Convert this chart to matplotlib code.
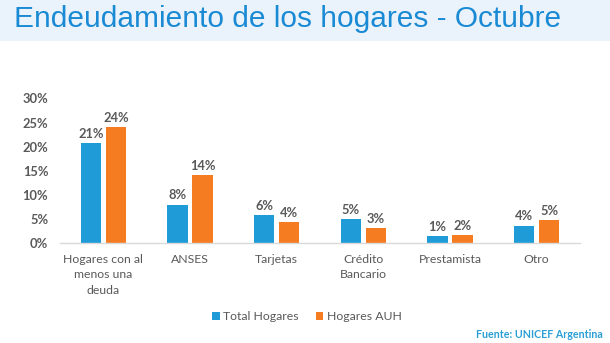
import matplotlib
matplotlib.use("Agg")
import matplotlib.pyplot as plt
from matplotlib.patches import Rectangle
import numpy as np

categories = ["Hogares con al\nmenos una\ndeuda", "ANSES", "Tarjetas", "Crédito\nBancario", "Prestamista", "Otro"]
total_hogares = [20.7, 7.9, 5.7, 4.8, 1.3, 3.5]
hogares_auh = [24.0, 14.0, 4.2, 3.0, 1.5, 4.6]
total_labels = ["21%", "8%", "6%", "5%", "1%", "4%"]
auh_labels = ["24%", "14%", "4%", "3%", "2%", "5%"]
yticks = [0, 5, 10, 15, 20, 25, 30]
ytick_labels = ["0%", "5%", "10%", "15%", "20%", "25%", "30%"]

BLUE = "#1f9bd7"
ORANGE = "#f57c21"
GRAY = "#595959"

fig = plt.figure(figsize=(6.1, 3.43), dpi=100)
fig.patch.set_facecolor("white")
W, H = 610, 343

# title band
fig.patches.append(Rectangle((0, 1 - 41 / H), 1, 41 / H, transform=fig.transFigure,
                             facecolor="#eaf3fb", edgecolor="none", zorder=0))
fig.text(14 / W, 1 - 19 / H, "Endeudamiento de los hogares - Octubre", fontsize=21.5,
         color="#1a8ad4", family="Liberation Sans", va="center", ha="left")

ax = fig.add_axes([60 / W, 1 - 242.5 / H, 520 / W, 144 / H])
x = np.arange(len(categories))
bw = 0.235
off = 0.145
ax.bar(x - off, total_hogares, bw, color=BLUE, label="Total Hogares")
ax.bar(x + off, hogares_auh, bw, color=ORANGE, label="Hogares AUH")
for xi, v, t in zip(x, total_hogares, total_labels):
    ax.text(xi - off, v + 0.7, t, ha="center", va="bottom", fontsize=9.3, fontweight="bold",
            color=GRAY, family="Lato")
for xi, v, t in zip(x, hogares_auh, auh_labels):
    ax.text(xi + off, v + 0.7, t, ha="center", va="bottom", fontsize=9.3, fontweight="bold",
            color=GRAY, family="Lato")

ax.set_xlim(-0.5, len(categories) - 0.5)
ax.set_ylim(0, 30)
ax.set_yticks(yticks)
ax.set_yticklabels(ytick_labels, fontsize=9.3, fontweight="bold", color=GRAY, family="Lato")
ax.set_xticks(x)
ax.set_xticklabels(categories, fontsize=8.8, color=GRAY, family="Lato", linespacing=1.5, va="top")
ax.tick_params(axis="both", length=0)
ax.tick_params(axis="x", pad=8)
ax.tick_params(axis="y", pad=8.5)
for s in ["top", "right", "left"]:
    ax.spines[s].set_visible(False)
ax.spines["bottom"].set_color("#d9d9d9")
ax.spines["bottom"].set_linewidth(1)

leg = fig.legend(loc="center", bbox_to_anchor=(307 / W, 1 - 317 / H), ncol=2, frameon=False,
                 prop={"family": "Lato", "size": 8.8}, handlelength=0.6, handleheight=0.6,
                 handletextpad=0.3, columnspacing=1.4)
for t in leg.get_texts():
    t.set_color(GRAY)

fig.text(603 / W, 1 - 335 / H, "Fuente: UNICEF Argentina", ha="right", va="center",
         fontsize=7.7, fontweight="bold", color="#2a9fd6", family="Lato")

fig.savefig("out.png", dpi=100)
